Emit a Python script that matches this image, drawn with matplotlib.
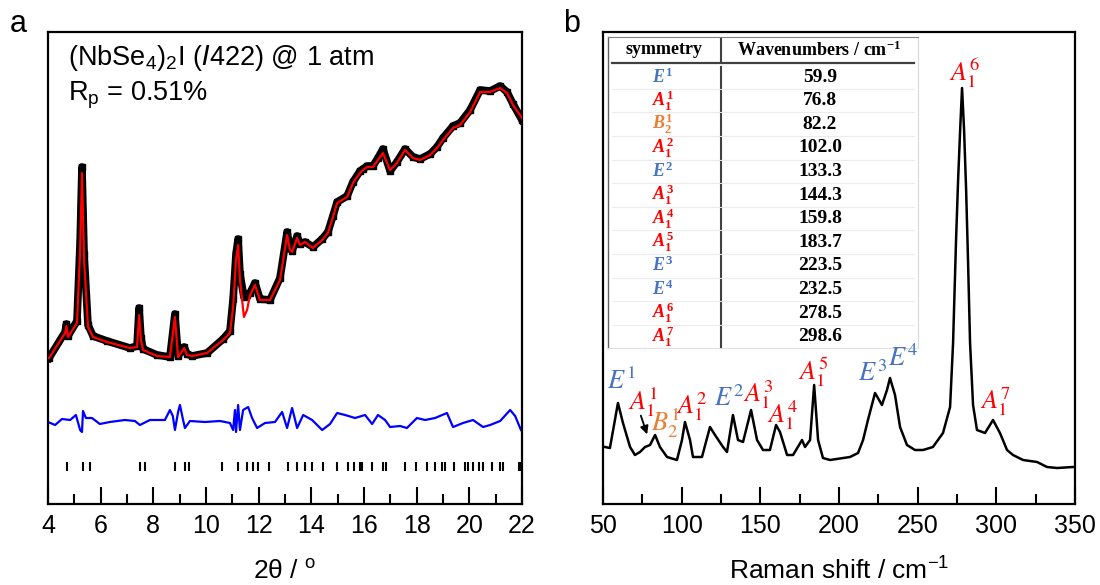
import matplotlib
matplotlib.use("Agg")
import matplotlib.pyplot as plt
from matplotlib.ticker import MultipleLocator

plt.rcParams['font.family'] = ['Liberation Sans', 'DejaVu Sans']
plt.rcParams['mathtext.rm'] = 'Liberation Serif:bold'
plt.rcParams['mathtext.it'] = 'Liberation Serif:italic:bold'
plt.rcParams['mathtext.bf'] = 'Liberation Serif:bold'

# ── Panel a: XRD refinement (2theta in deg, intensity in arb. units) ─────────
xrd_tth = [4.04, 4.65, 4.70, 4.76, 5.10, 5.22, 5.29, 5.37, 5.52, 5.71, 6.24, 7.11,
           7.38, 7.46, 7.53, 7.61, 8.14, 8.63, 8.82, 8.94, 9.17, 9.28, 9.47, 10.04,
           10.65, 10.91, 11.03, 11.14, 11.22, 11.29, 11.44, 11.56, 11.67, 11.86, 12.05,
           12.43, 12.81, 13.08, 13.19, 13.27, 13.46, 13.57, 13.76, 14.06, 14.41, 14.63,
           14.82, 14.98, 15.36, 15.58, 15.85, 15.96, 16.12, 16.34, 16.53, 16.72, 16.99,
           17.25, 17.56, 17.86, 18.13, 18.51, 18.77, 19.00, 19.38, 19.65, 20.03, 20.41,
           20.79, 21.17, 21.43, 21.66, 22.00]
xrd_calc = [146, 171, 178, 167, 181, 254, 331, 244, 177, 167, 162, 156,
            157, 189, 164, 154, 148, 147, 187, 147, 156, 149, 148, 151,
            164, 171, 197, 244, 259, 224, 187, 194, 209, 219, 204,
            204, 224, 269, 254, 252, 266, 259, 262, 256, 264, 271,
            287, 301, 307, 321, 331, 334, 337, 337, 344, 351, 334,
            341, 354, 346, 344, 349, 356, 364, 376, 379, 392, 412,
            412, 416, 411, 399, 386]
xrd_obs = [146, 172, 180, 168, 183, 262, 337, 250, 179, 168, 163, 156,
           158, 196, 166, 155, 149, 147, 190, 148, 157, 150, 148, 151,
           165, 173, 205, 250, 265, 230, 207, 209, 211, 221, 205,
           204, 226, 272, 256, 253, 268, 260, 262, 257, 265, 272,
           288, 302, 308, 322, 333, 335, 338, 338, 346, 355, 333,
           342, 355, 347, 345, 350, 357, 366, 378, 381, 394, 414,
           413, 418, 412, 400, 384]

diff_tth = [4.0, 4.27, 4.53, 4.84, 5.06, 5.22, 5.29, 5.33, 5.44, 5.67, 5.97, 6.35,
            6.92, 7.30, 7.49, 7.87, 8.44, 8.63, 8.74, 8.82, 8.94, 9.01, 9.13, 9.20,
            9.39, 9.96, 10.53, 10.91, 11.03, 11.10, 11.14, 11.22, 11.29, 11.41, 11.60,
            11.75, 11.94, 12.24, 12.62, 12.89, 13.08, 13.27, 13.46, 13.69, 14.03, 14.41,
            14.71, 14.98, 15.28, 15.66, 16.04, 16.31, 16.53, 16.80, 16.99, 17.37, 17.63,
            18.01, 18.32, 18.70, 19.15, 19.38, 19.76, 20.14, 20.52, 20.79, 21.17, 21.55,
            21.74, 21.96]
diff_val = [82, 79, 85, 84, 89, 74, 72, 93, 86, 86, 80, 82,
            84, 83, 79, 84, 84, 94, 88, 74, 92, 99, 84, 76,
            83, 82, 83, 81, 74, 94, 72, 99, 74, 94, 97,
            86, 76, 81, 82, 92, 76, 96, 76, 89, 84, 74,
            80, 91, 89, 86, 89, 80, 89, 84, 77, 78, 76,
            86, 84, 86, 91, 77, 81, 84, 77, 79, 83, 94,
            88, 74]

bragg_tth = [4.71, 5.32, 5.60, 7.49, 7.68, 8.82, 9.20, 9.36, 10.61, 11.22, 11.56,
             11.79, 11.98, 12.39, 13.12, 13.46, 13.76, 14.03, 14.44, 14.98, 15.39,
             15.62, 15.85, 15.92, 16.31, 16.72, 16.84, 17.56, 17.98, 18.39, 18.70,
             18.96, 19.08, 19.42, 19.84, 19.95, 20.14, 20.37, 20.52, 20.86, 21.17,
             21.28, 21.89, 21.96]

# ── Panel b: Raman spectrum ──────────────────────────────────────────────────
raman_shift = [51.3, 54.4, 59.5, 62.7, 67.2, 70.3, 73.5, 76.7, 79.9, 83.1, 86.2,
               90.7, 97.0, 100.2, 102.1, 105.3, 107.2, 112.9, 118.0, 121.2, 126.3,
               128.8, 132.6, 135.8, 139.0, 144.1, 147.9, 151.7, 156.1, 160.0, 162.5,
               167.0, 170.8, 176.5, 178.4, 181.6, 184.2, 186.7, 189.8, 194.3, 207.0,
               212.1, 215.3, 218.4, 222.9, 227.3, 230.5, 232.4, 235.6, 238.8, 243.2,
               248.3, 253.4, 259.7, 266.1, 270.6, 272.5, 274.4, 275.7, 277.0, 278.2,
               279.5, 280.8, 282.0, 283.3, 285.2, 287.7, 292.8, 297.9, 302.3, 306.8,
               310.6, 317.0, 325.9, 332.2, 338.6, 348.7, 350.0]
raman_int = [57, 56, 101, 81, 57, 49, 52, 57, 59, 69, 57,
             47, 44, 64, 82, 64, 47, 47, 77, 69, 57,
             52, 89, 64, 62, 94, 64, 54, 54, 79, 72,
             49, 49, 64, 57, 64, 119, 64, 46, 44, 47,
             51, 64, 84, 111, 99, 114, 126, 109, 77, 59,
             54, 54, 57, 71, 97, 161, 264, 324, 374, 416,
             374, 314, 244, 161, 99, 74, 71, 84, 71, 54,
             49, 44, 42, 37, 36, 37, 37]

# peak labels: text, colour, position
RED, BLUE, ORANGE = "#FF0000", "#4472C4", "#ED7D31"
peak_labels = [r"$E^1$", r"$A_1^1$", r"$B_2^1$", r"$A_1^2$", r"$E^2$", r"$A_1^3$",
               r"$A_1^4$", r"$A_1^5$", r"$E^3$", r"$E^4$", r"$A_1^6$", r"$A_1^7$"]
peak_colors = [BLUE, RED, ORANGE, RED, BLUE, RED, RED, RED, BLUE, BLUE, RED, RED]
label_x = [61.5, 75.5, 89.8, 106.6, 130.0, 148.4, 164.4, 183.5, 221.6, 240.7, 280.1, 299.2]
label_y = [123, 102, 81, 97, 106, 109, 89, 132, 131, 146, 431, 102]

# table
table_sym = peak_labels
table_wn = ["59.9", "76.8", "82.2", "102.0", "133.3", "144.3", "159.8", "183.7",
            "223.5", "232.5", "278.5", "298.6"]

fig = plt.figure(figsize=(11, 5.85), dpi=100)
ax1 = fig.add_axes([48 / 1100, 81 / 585, 474 / 1100, 472 / 585])
ax2 = fig.add_axes([603 / 1100, 81 / 585, 472 / 1100, 472 / 585])

# ── Panel a ──────────────────────────────────────────────────────────────────
ax1.plot(xrd_tth, xrd_obs, color="black", lw=5.5, marker="s", ms=4.5, zorder=2)
ax1.plot(xrd_tth, xrd_calc, color="red", lw=1.6, zorder=3)
ax1.plot(diff_tth, diff_val, color="#0000FF", lw=1.6)
ax1.vlines(bragg_tth, 33, 42, color="black", lw=1.5)
ax1.set_xlim(4, 22)
ax1.set_ylim(0, 472)
ax1.xaxis.set_major_locator(MultipleLocator(2))
ax1.xaxis.set_minor_locator(MultipleLocator(1))
ax1.set_xlabel(r"2θ / $\mathregular{^o}$", fontsize=19, labelpad=16)
ax1.text(4.76, 446, r"(NbSe$\mathregular{_4}$)$\mathregular{_2}$I ($\mathit{I}$422) @ 1 atm",
         fontsize=19.5, va="center", ha="left", math_fontfamily="dejavusans")
ax1.text(4.76, 409, r"R$\mathregular{_p}$ = 0.51%", fontsize=19.5, va="center", ha="left")

# ── Panel b ──────────────────────────────────────────────────────────────────
ax2.plot(raman_shift, raman_int, color="black", lw=1.8)
ax2.set_xlim(50, 350)
ax2.set_ylim(0, 472)
ax2.xaxis.set_major_locator(MultipleLocator(50))
ax2.xaxis.set_minor_locator(MultipleLocator(25))
ax2.set_xlabel(r"Raman shift / cm$\mathregular{^{-1}}$", fontsize=19, labelpad=14)
for lab, col, x, y in zip(peak_labels, peak_colors, label_x, label_y):
    ax2.text(x, y, lab, color=col, fontsize=19, ha="center", va="center",
             math_fontfamily="stix")
ax2.annotate("", xy=(78.6, 67), xytext=(73.5, 91),
             arrowprops=dict(arrowstyle="-|>", color="black", lw=1.3, mutation_scale=12))

for ax in (ax1, ax2):
    for sp in ax.spines.values():
        sp.set_linewidth(1.6)
    ax.tick_params(axis="x", which="major", direction="in", length=12, width=1.5,
                   labelsize=18, pad=7)
    ax.tick_params(axis="x", which="minor", direction="in", length=7, width=1.5)
    ax.tick_params(axis="y", which="both", left=False, labelleft=False)


# table drawn in ax2 axes coordinates (pixel positions converted)
def tx(px):
    return (px - 603) / 472


def ty(py):
    return (504 - py) / 472


T = ax2.transAxes
ax2.plot([tx(608), tx(608)], [ty(37), ty(348)], color="#606060", lw=1, transform=T)
ax2.plot([tx(918), tx(918)], [ty(37), ty(348)], color="#d9d9d9", lw=0.8, transform=T)
ax2.plot([tx(608), tx(918)], [ty(37), ty(37)], color="#808080", lw=0.8, transform=T)
ax2.plot([tx(608), tx(918)], [ty(348), ty(348)], color="#e0e0e0", lw=0.8, transform=T)
ax2.plot([tx(612), tx(914)], [ty(63), ty(63)], color="#404040", lw=1.6, transform=T)
ax2.text(tx(664), ty(50), "symmetry", fontsize=13, fontweight="bold",
         family="Liberation Serif", ha="center", va="center", transform=T)
ax2.text(tx(819), ty(50), r"Wavenumbers / cm$^{-1}$", fontsize=13, fontweight="bold",
         family="Liberation Serif", ha="center", va="center", transform=T,
         math_fontfamily="custom")
ax2.plot([tx(721), tx(721)], [ty(39), ty(61)], color="#404040", lw=1.5, transform=T)
row_h = 23.6
for i, (sym, wn, col) in enumerate(zip(table_sym, table_wn, peak_colors)):
    yc = 77 + i * row_h
    ax2.text(tx(663), ty(yc), sym, color=col, fontsize=13, ha="center", va="center",
             transform=T, math_fontfamily="custom")
    ax2.text(tx(820), ty(yc), wn, fontsize=14, fontweight="bold",
             family="Liberation Serif", ha="center", va="center", transform=T)
    ax2.plot([tx(721), tx(721)], [ty(yc - row_h / 2 + 2), ty(yc + row_h / 2 - 1)],
             color="#404040", lw=1.5, transform=T)
    if i < len(table_sym) - 1:
        ax2.plot([tx(612), tx(914)], [ty(yc + row_h / 2), ty(yc + row_h / 2)],
                 color="#ececec", lw=0.8, transform=T)

fig.text(18 / 1100, 1 - 24 / 585, "a", fontsize=22, ha="center", va="center")
fig.text(572 / 1100, 1 - 24 / 585, "b", fontsize=22, ha="center", va="center")

fig.savefig("out.png", dpi=100)
